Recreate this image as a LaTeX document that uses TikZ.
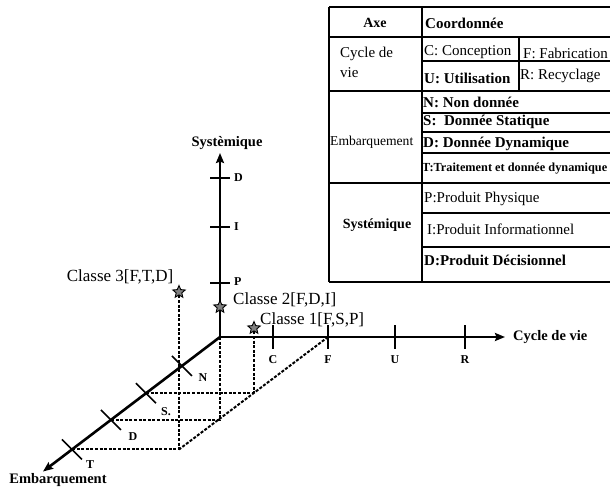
\documentclass[tikz,border=0pt]{standalone}
\usepackage{fontspec}
\setmainfont{Liberation Serif}
\usepackage{tikz}
\usetikzlibrary{arrows, arrows.meta, calc, shapes.geometric}
\tikzset{>={Stealth[length=10pt, width=8pt, inset=1.5pt]}}
\tikzset{
	axe/.style={line width=2.6pt},
	grad/.style={line width=1.6pt},
	proj/.style={line width=2pt, dash pattern=on 3pt off 1.6pt},
	etoile/.style={star, star points=5, star point ratio=2.2, fill=gray, draw=black, line width=0.9pt, minimum size=13pt, inner sep=0pt},
	lettre/.style={font=\fontsize{12}{13}\selectfont\bfseries, inner sep=0pt},
	titre/.style={font=\fontsize{14.5}{16}\selectfont\bfseries, inner sep=0pt},
	classe/.style={font=\fontsize{17}{19}\selectfont, inner sep=0pt},
	cell/.style={font=\fontsize{15}{17}\selectfont, anchor=west, inner sep=0pt},
	cellb/.style={cell, font=\fontsize{15}{17}\selectfont\bfseries},
	filet/.style={line width=1.1pt}
}

\begin{document}
\begin{tikzpicture}[x=1pt, y=-1pt]
	\useasboundingbox (0,0) rectangle (610,490);

	% axes
	\coordinate (O)  at (220,337);
	\coordinate (Xf) at (505,337);
	\coordinate (Yf) at (220,153);
	\coordinate (Zf) at (43,471.5);
	\draw[axe,->] (O) -- (Xf);
	\draw[axe,->] (O) -- (Yf);
	\draw[axe,->] (O) -- (Zf);
	\node[titre, anchor=west] (Lx) at (513,337) {Cycle de vie};
	\node[titre] (Ly) at (227,143) {Systèmique};
	\node[titre] (Lz) at (58,480) {Embarquement};

	% cycle de vie
	\coordinate (cC) at (273,337);
	\coordinate (cF) at (328,337);
	\coordinate (cU) at (395,337);
	\coordinate (cR) at (465,337);
	\draw[grad] ($(cC)+(0,-12)$) -- ($(cC)+(0,12)$);
	\draw[grad] ($(cF)+(0,-12)$) -- ($(cF)+(0,12)$);
	\draw[grad] ($(cU)+(0,-12)$) -- ($(cU)+(0,12)$);
	\draw[grad] ($(cR)+(0,-12)$) -- ($(cR)+(0,12)$);
	\node[lettre] (lC) at ($(cC)+(0,23)$) {C};
	\node[lettre] (lF) at ($(cF)+(0,23)$) {F};
	\node[lettre] (lU) at ($(cU)+(0,23)$) {U};
	\node[lettre] (lR) at ($(cR)+(0,23)$) {R};

	% systemique
	\coordinate (sP) at (220,283);
	\coordinate (sI) at (220,227);
	\coordinate (sD) at (220,178);
	\draw[grad] ($(sP)+(-10,0)$) -- ($(sP)+(10,0)$);
	\draw[grad] ($(sI)+(-10,0)$) -- ($(sI)+(10,0)$);
	\draw[grad] ($(sD)+(-10,0)$) -- ($(sD)+(10,0)$);
	\node[lettre, anchor=west] (lP) at ($(sP)+(14,-1)$) {P};
	\node[lettre, anchor=west] (lI) at ($(sI)+(14,0)$) {I};
	\node[lettre, anchor=west] (lD) at ($(sD)+(14,0)$) {D};

	% embarquement
	\coordinate (eN) at ($(O)!0.2147!(Zf)$);
	\coordinate (eS) at ($(O)!0.418!(Zf)$);
	\coordinate (eD) at ($(O)!0.616!(Zf)$);
	\coordinate (eT) at ($(O)!0.836!(Zf)$);
	\draw[grad] ($(eN)+(-10,-10)$) -- ($(eN)+(10,10)$);
	\draw[grad] ($(eS)+(-10,-10)$) -- ($(eS)+(10,10)$);
	\draw[grad] ($(eD)+(-10,-10)$) -- ($(eD)+(10,10)$);
	\draw[grad] ($(eT)+(-10,-10)$) -- ($(eT)+(10,10)$);
	\node[lettre] (lN) at ($(eN)+(21,12)$) {N};
	\node[lettre] (lS) at ($(eS)+(20,18)$) {S.};
	\node[lettre] (lDe) at ($(eD)+(22,17)$) {D};
	\node[lettre] (lT) at ($(eT)+(18,15)$) {T};

	% classes
	\node[etoile] (K1) at (254,328) {};
	\node[etoile] (K2) at (220,307) {};
	\node[etoile] (K3) at (179,292) {};
	\node[classe, anchor=west] (N1) at (260,320) {Classe 1[F,S,P]};
	\node[classe, anchor=west] (N2) at (233,300) {Classe 2[F,D,I]};
	\node[classe] (N3) at (120,277) {Classe 3[F,T,D]};

	% projections
	\coordinate (P1) at (eS -| K1);
	\coordinate (P2) at (eD -| O);
	\coordinate (P3) at (eT -| K3);
	\draw[proj] (cF) -- (P3);
	\draw[proj] (K1) -- (P1);
	\draw[proj] (O) -- (P2);
	\draw[proj] (K3) -- (P3);
	\draw[proj] (eS) -- (P1);
	\draw[proj] (eD) -- (P2);
	\draw[proj] (eT) -- (P3);

	% tableau
	\draw[filet] (329,7) -- (610,7);
	\draw[filet] (329,37) -- (610,37);
	\draw[filet] (422,61) -- (610,61);
	\draw[filet] (329,91) -- (610,91);
	\draw[filet] (422,113) -- (610,113);
	\draw[filet] (422,132) -- (610,132);
	\draw[filet] (422,153) -- (610,153);
	\draw[filet] (329,183) -- (610,183);
	\draw[filet] (422,213) -- (610,213);
	\draw[filet] (422,247) -- (610,247);
	\draw[filet] (329,282) -- (610,282);
	\draw[filet] (329,7) -- (329,282);
	\draw[filet] (422,7) -- (422,282);
	\draw[filet] (519,37) -- (519,91);

	\node[cellb, anchor=center, font=\fontsize{14}{16}\selectfont\bfseries] (tAxe) at (375,23) {Axe};
	\node[cellb] (tCoord) at (425,23) {Coordonnée};
	\node[cell] (tCycle1) at (340,54) {Cycle de};
	\node[cell] (tCycle2) at (340,73) {vie};
	\node[cell] (tC) at (424,52) {C: Conception};
	\node[cell] (tF) at (523,53) {F: Fabrication};
	\node[cellb] (tU) at (424,78) {U: Utilisation};
	\node[cell] (tR) at (520,76) {R: Recyclage};
	\node[cell, font=\fontsize{13.6}{15}\selectfont] (tEmb) at (330,142) {Embarquement};
	\node[cellb] (tN) at (423,102) {N: Non donnée};
	\node[cellb] (tS) at (423,122) {S:\ \ Donnée Statique};
	\node[cellb] (tD) at (423,144) {D: Donnée Dynamique};
	\node[cellb, font=\fontsize{12.3}{14}\selectfont\bfseries] (tT) at (422,169) {T:Traitement et donnée dynamique};
	\node[cellb, anchor=center, font=\fontsize{14}{16}\selectfont\bfseries] (tSys) at (377,225) {Systémique};
	\node[cell] (tP) at (424,199) {P:Produit Physique};
	\node[cell] (tI) at (427,229) {I:Produit Informationnel};
	\node[cellb] (tDp) at (424,260) {D:Produit Décisionnel};
\end{tikzpicture}
\end{document}
